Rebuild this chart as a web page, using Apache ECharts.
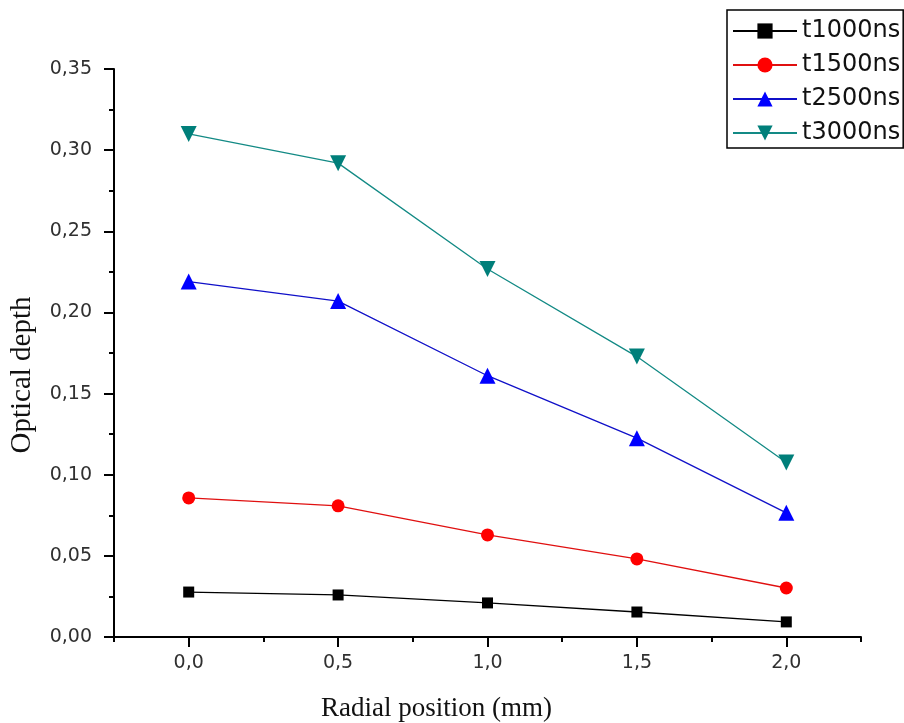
<!DOCTYPE html>
<html>
<head>
<meta charset="utf-8">
<script src="https://cdn.jsdelivr.net/npm/echarts@6/dist/echarts.min.js"></script>
<style>html,body{margin:0;padding:0;background:#fff}#c{width:904px;height:723px}</style>
</head>
<body>
<div id="c"></div>
<script>
const xValues = [0, 0.5, 1.0, 1.5, 2.0];
const t1000 = [0.0277, 0.0259, 0.0210, 0.0154, 0.0093];
const t1500 = [0.0857, 0.0808, 0.0629, 0.0481, 0.0302];
const t2500 = [0.2190, 0.2070, 0.1610, 0.1225, 0.0765];
const t3000 = [0.3100, 0.2920, 0.2268, 0.1728, 0.1075];
const seriesNames = ['t1000ns', 't1500ns', 't2500ns', 't3000ns'];
const xMajorTicks = [0, 0.5, 1.0, 1.5, 2.0];
const xMinorTicks = [-0.25, 0.25, 0.75, 1.25, 1.75, 2.25];

const pairs = arr => xValues.map((x, i) => [x, arr[i]]);
const styles = [
  {symbol: 'rect', size: 11, marker: '#000000', line: '#000000', rotate: 0},
  {symbol: 'circle', size: 13, marker: '#ff0000', line: '#e01010', rotate: 0},
  {symbol: 'triangle', size: 16, marker: '#0000ff', line: '#1010c8', rotate: 0},
  {symbol: 'triangle', size: 16, marker: '#007f7a', line: '#138a85', rotate: 180}
];
const dataSets = [t1000, t1500, t2500, t3000];
const sans = 'DejaVu Sans, sans-serif';
const serif = 'Liberation Serif, Times New Roman, serif';

const chart = echarts.init(document.getElementById('c'));
chart.setOption({
  animation: false,
  backgroundColor: '#ffffff',
  grid: {left: 114, right: 43, top: 69, bottom: 86, outerBoundsMode: 'none', containLabel: false},
  legend: {
    orient: 'vertical', left: 727, top: 10,
    padding: [9, 3, 3, 5],
    borderColor: '#000', borderWidth: 1.5,
    itemWidth: 64, itemHeight: 19, itemGap: 10,
    textStyle: {fontFamily: sans, fontSize: 24, color: '#111'},
    data: seriesNames
  },
  xAxis: [{
    type: 'value', min: -0.25, max: 2.25,
    name: 'Radial position (mm)', nameLocation: 'middle', nameGap: 58,
    nameTextStyle: {fontFamily: serif, fontSize: 27, color: '#111', padding: [0, 102, 0, 0]},
    axisLine: {show: true, onZero: false, lineStyle: {color: '#000', width: 2}},
    axisTick: {show: true, length: 10, lineStyle: {color: '#000', width: 2}, customValues: xMajorTicks},
    axisLabel: {customValues: xMajorTicks, margin: 17, fontFamily: sans, fontSize: 19, color: '#303030',
      formatter: v => v.toFixed(1).replace('.', ',')},
    splitLine: {show: false}
  }, {
    type: 'value', min: -0.25, max: 2.25, position: 'bottom',
    axisLine: {show: false, onZero: false},
    axisTick: {show: true, length: 5, lineStyle: {color: '#000', width: 2}, customValues: xMinorTicks},
    axisLabel: {show: false},
    splitLine: {show: false}
  }],
  yAxis: {
    type: 'value', min: 0, max: 0.35, interval: 0.05,
    name: 'Optical depth', nameLocation: 'middle', nameGap: 77,
    nameTextStyle: {fontFamily: serif, fontSize: 29, color: '#111', padding: [0, 44, 0, 0]},
    axisLine: {show: true, onZero: false, lineStyle: {color: '#000', width: 2}},
    axisTick: {show: true, length: 10, lineStyle: {color: '#000', width: 2}},
    minorTick: {show: true, splitNumber: 2, length: 5, lineStyle: {color: '#000', width: 2}},
    axisLabel: {margin: 22, fontFamily: sans, fontSize: 19, color: '#303030',
      formatter: v => v.toFixed(2).replace('.', ',')},
    splitLine: {show: false}
  },
  series: dataSets.map((d, i) => ({
    name: seriesNames[i], type: 'line', xAxisIndex: 0,
    data: pairs(d),
    symbol: styles[i].symbol, symbolSize: styles[i].size, symbolRotate: styles[i].rotate,
    itemStyle: {color: styles[i].marker},
    lineStyle: {color: styles[i].line, width: 1.3},
    z: 2 + i
  }))
});
</script>
</body>
</html>
